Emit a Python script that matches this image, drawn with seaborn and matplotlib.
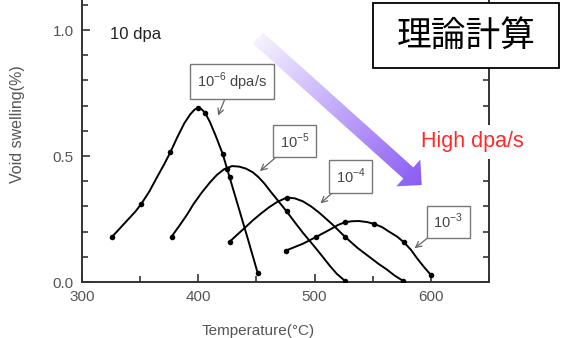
import numpy as np
import pandas as pd
import matplotlib
matplotlib.use("Agg")
import matplotlib.pyplot as plt
from matplotlib.patches import Polygon, Rectangle
from matplotlib.ticker import MultipleLocator
import seaborn as sns

# curve traces (temperature in C, void swelling in %)
rates = ["1e-6", "1e-5", "1e-4", "1e-3"]

t_6 = [326, 333, 340, 346, 351, 358, 365, 371, 376, 382, 388, 393, 397, 400, 403, 406,
       410, 415, 421, 426, 435, 443, 451]
s_6 = [0.18, 0.215, 0.25, 0.28, 0.31, 0.36, 0.42, 0.47, 0.515, 0.575, 0.63, 0.665, 0.685,
       0.69, 0.685, 0.67, 0.635, 0.58, 0.508, 0.43, 0.29, 0.165, 0.037]

t_5 = [377, 384, 390, 396, 403, 410, 416, 422, 429, 435, 441, 447, 452, 457, 462, 469,
       476, 483, 490, 500, 507, 513, 519, 526]
s_5 = [0.18, 0.225, 0.265, 0.31, 0.355, 0.395, 0.425, 0.447, 0.46, 0.458, 0.45, 0.435,
       0.415, 0.39, 0.36, 0.32, 0.28, 0.237, 0.195, 0.14, 0.1, 0.065, 0.033, 0.005]

t_4 = [427, 434, 440, 447, 454, 461, 468, 476, 483, 490, 497, 504, 515, 526, 537, 547,
       555, 562, 569, 576]
s_4 = [0.16, 0.19, 0.215, 0.245, 0.272, 0.297, 0.318, 0.335, 0.332, 0.32, 0.3, 0.275,
       0.23, 0.18, 0.135, 0.1, 0.072, 0.05, 0.025, 0.005]

t_3 = [475, 490, 501, 514, 520, 526, 532, 538, 545, 551, 558, 564, 571, 577, 583, 588,
       594, 600]
s_3 = [0.124, 0.152, 0.178, 0.21, 0.226, 0.237, 0.241, 0.242, 0.238, 0.231, 0.218, 0.2,
       0.18, 0.157, 0.127, 0.095, 0.06, 0.028]

# computed points (dots)
dot_t_6 = [326, 351, 376, 400, 406, 421, 427, 451]
dot_s_6 = [0.18, 0.31, 0.515, 0.69, 0.67, 0.508, 0.415, 0.037]
dot_t_5 = [377, 425, 476, 526]
dot_s_5 = [0.18, 0.45, 0.28, 0.005]
dot_t_4 = [427, 476, 526, 576]
dot_s_4 = [0.16, 0.335, 0.18, 0.005]
dot_t_3 = [475, 501, 526, 551, 577, 600]
dot_s_3 = [0.124, 0.178, 0.237, 0.231, 0.157, 0.028]

box_labels = [r"10$^{-6}$ dpa/s", r"10$^{-5}$", r"10$^{-4}$", r"10$^{-3}$"]
box_pos = [(429, 0.795), (483, 0.56), (531, 0.418), (615, 0.239)]
arrow_tip = [(417, 0.66), (453, 0.44), (505, 0.312), (586, 0.134)]

lines = pd.concat([
    pd.DataFrame({"T": t, "S": s, "rate": r})
    for t, s, r in zip([t_6, t_5, t_4, t_3], [s_6, s_5, s_4, s_3], rates)
])
dots = pd.concat([
    pd.DataFrame({"T": t, "S": s, "rate": r})
    for t, s, r in zip([dot_t_6, dot_t_5, dot_t_4, dot_t_3],
                       [dot_s_6, dot_s_5, dot_s_4, dot_s_3], rates)
])

sns.set_theme(style="ticks")
plt.rcParams["font.family"] = ["Liberation Sans", "DejaVu Sans"]
plt.rcParams["mathtext.fontset"] = "custom"
plt.rcParams["mathtext.rm"] = "Liberation Sans"

fig = plt.figure(figsize=(5.61, 3.38), dpi=100)
ax = fig.add_axes([82 / 561, 56 / 338, 407 / 561, 282 / 338])

sns.lineplot(data=lines, x="T", y="S", units="rate", estimator=None, sort=False,
             color="black", lw=1.4, ax=ax)
sns.scatterplot(data=dots, x="T", y="S", color="black", s=16, linewidth=0, ax=ax, zorder=3)

ax.set_xlim(300, 650)
ax.set_ylim(0, 282 / 252)
ax.xaxis.set_major_locator(MultipleLocator(100))
ax.xaxis.set_minor_locator(MultipleLocator(50))
ax.yaxis.set_major_locator(MultipleLocator(0.5))
ax.yaxis.set_minor_locator(MultipleLocator(0.1))
ax.tick_params(which="both", direction="in", right=True, top=False, color="#333",
               labelcolor="#555", labelsize=11)
ax.tick_params(which="major", length=6, width=1.2, pad=6)
ax.tick_params(which="minor", length=4, width=1.2)
ax.spines["top"].set_visible(False)
for sp in ["left", "right", "bottom"]:
    ax.spines[sp].set_color("#333")
    ax.spines[sp].set_linewidth(1.4)

ax.set_xlabel("Temperature(\u00b0C)", fontsize=11, color="#555")
ax.xaxis.set_label_coords(0.432, -0.15)
ax.set_ylabel("Void swelling(%)", fontsize=11.5, color="#555")
ax.yaxis.set_label_coords(-0.14, 0.56)

ax.text(324, 0.984, "10 dpa", fontsize=12, color="#222", ha="left", va="center")

for lab, (bx, by), (tx, ty) in zip(box_labels, box_pos, arrow_tip):
    ax.annotate(lab, xy=(tx, ty), xytext=(bx, by), fontsize=10.5, color="#444",
                ha="center", va="center",
                bbox=dict(boxstyle="square,pad=0.45", fc="white", ec="#777", lw=1),
                arrowprops=dict(arrowstyle="->,head_length=0.4,head_width=0.2",
                                color="#666", lw=0.9, shrinkA=0, shrinkB=0))

# overlay in pixel coordinates for the decorations
ov = fig.add_axes([0, 0, 1, 1], zorder=5)
ov.set_xlim(0, 561)
ov.set_ylim(338, 0)
ov.axis("off")
ov.patch.set_alpha(0)

tail = np.array([258.0, 38.0])
tip = np.array([421.7, 185.0])
u = (tip - tail) / np.linalg.norm(tip - tail)
n = np.array([-u[1], u[0]])
base = tip - u * 18
sw, hw = 7.5, 18
pts = [tail + n * sw, base + n * sw, base + n * hw, tip,
       base - n * hw, base - n * sw, tail - n * sw]
arrow = Polygon(pts, closed=True, fc="none", ec="none")
ov.add_patch(arrow)

x0, x1, y0, y1 = 235, 440, 15, 200
X, Y = np.meshgrid(np.arange(x0, x1), np.arange(y0, y1))
t = ((X - tail[0]) * u[0] + (Y - tail[1]) * u[1]) / np.linalg.norm(tip - tail)
t = np.clip(t, 0, 1)
img = np.zeros(X.shape + (4,))
purple = np.array([0.54, 0.35, 0.96])
img[..., :3] = purple
img[..., 3] = 0.08 + 0.92 * t
im = ov.imshow(img, extent=(x0, x1, y1, y0), origin="upper", aspect="auto", zorder=2)
im.set_clip_path(arrow)

ov.add_patch(Rectangle((373, 3), 186.5, 65, fc="white", ec="black", lw=1.3, zorder=3))
ov.text(466, 36, "理論計算", fontsize=25, family=["Noto Sans CJK JP", "DejaVu Sans"],
        ha="center", va="center", color="black", zorder=4)

ov.text(472, 142, "High dpa/s", fontsize=15.5, color="#ff2a2a", ha="center", va="center",
        bbox=dict(boxstyle="square,pad=0.3", fc="white", ec="none"), zorder=4)

fig.savefig("out.png", dpi=100)
